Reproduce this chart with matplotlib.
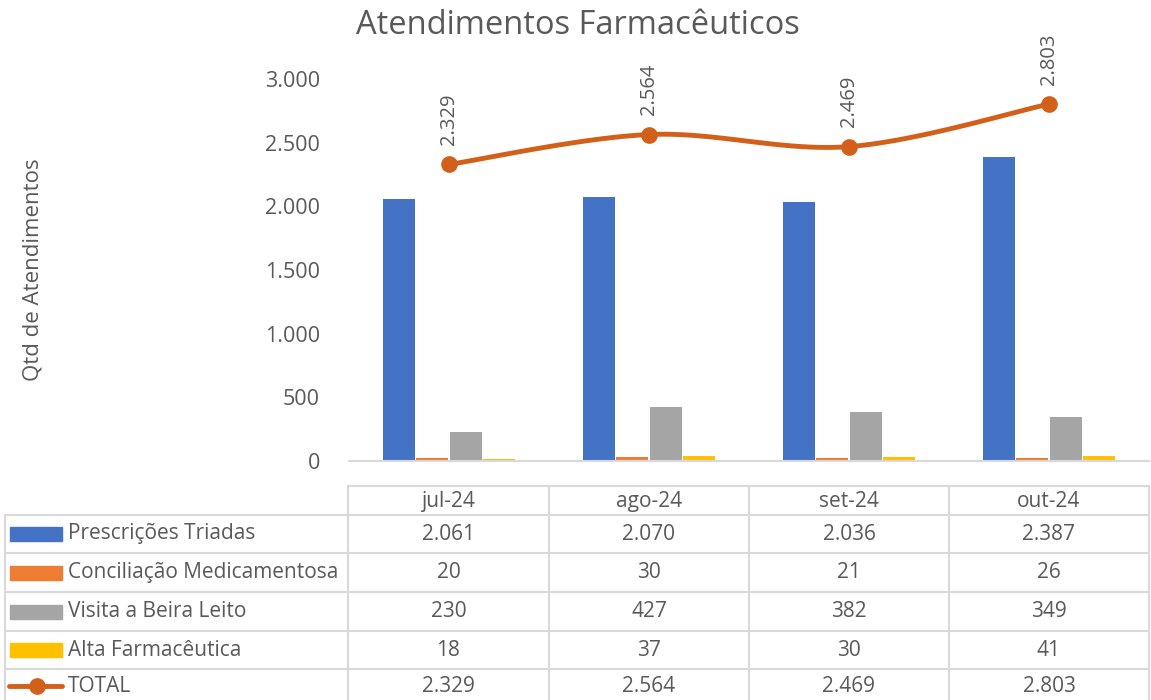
import numpy as np
import matplotlib.pyplot as plt

meses = ["jul-24", "ago-24", "set-24", "out-24"]
prescricoes = [2061, 2070, 2036, 2387]
conciliacao = [20, 30, 21, 26]
visita = [230, 427, 382, 349]
alta = [18, 37, 30, 41]
total = [2329, 2564, 2469, 2803]

series = [
    ("Prescrições Triadas", prescricoes, "#4472C4"),
    ("Conciliação Medicamentosa", conciliacao, "#ED7D31"),
    ("Visita a Beira Leito", visita, "#A5A5A5"),
    ("Alta Farmacêutica", alta, "#FFC000"),
]
cor_total = "#D2601A"
cinza_txt = "#595959"
cinza_linha = "#D9D9D9"

plt.rcParams["font.family"] = ["Open Sans", "DejaVu Sans"]


def fmt(v):
    return f"{v:,}".replace(",", ".")


def suavizar(x, y, n=40):
    # curva tipo Excel: bezier com tangentes catmull-rom
    x = np.asarray(x, float)
    y = np.asarray(y, float)
    px = np.concatenate([[x[0]], x, [x[-1]]])
    py = np.concatenate([[y[0]], y, [y[-1]]])
    xs, ys = [], []
    t = np.linspace(0, 1, n)
    for i in range(1, len(px) - 2):
        p0 = np.array([px[i], py[i]])
        p3 = np.array([px[i + 1], py[i + 1]])
        p1 = p0 + (np.array([px[i + 1], py[i + 1]]) - np.array([px[i - 1], py[i - 1]])) / 6
        p2 = p3 - (np.array([px[i + 2], py[i + 2]]) - np.array([px[i], py[i]])) / 6
        b = ((1 - t) ** 3)[:, None] * p0 + (3 * (1 - t) ** 2 * t)[:, None] * p1 \
            + (3 * (1 - t) * t ** 2)[:, None] * p2 + (t ** 3)[:, None] * p3
        xs.extend(b[:, 0])
        ys.extend(b[:, 1])
    return np.array(xs), np.array(ys)


W, H = 1151, 700
fig = plt.figure(figsize=(W / 100, H / 100), dpi=100)

ax = fig.add_axes([349 / W, 1 - 461 / H, 800 / W, (461 - 79) / H])
x = np.arange(len(meses))
largura = 0.16
offsets = [-0.25, -0.083, 0.083, 0.25]
for (nome, vals, cor), off in zip(series, offsets):
    ax.bar(x + off, vals, largura, color=cor, zorder=2)

sx, sy = suavizar(x, total)
ax.plot(sx, sy, color=cor_total, lw=3.5, zorder=3, clip_on=False)
ax.plot(x, total, "o", color=cor_total, ms=11, zorder=4, clip_on=False)
for xi, v in zip(x, total):
    ax.annotate(fmt(v), (xi, v), xytext=(0, 14), textcoords="offset points",
                rotation=90, ha="center", va="bottom", fontsize=14.5,
                color=cinza_txt, annotation_clip=False)

ax.set_xlim(-0.5, len(meses) - 0.5)
ax.set_ylim(0, 3000)
ax.set_yticks(np.arange(0, 3001, 500))
ax.set_yticklabels([fmt(v) for v in range(0, 3001, 500)])
ax.tick_params(axis="y", length=0, labelsize=15.5, labelcolor=cinza_txt, pad=21)
ax.set_xticks([])
for s in ["top", "right", "left"]:
    ax.spines[s].set_visible(False)
ax.spines["bottom"].set_color(cinza_linha)
ax.spines["bottom"].set_linewidth(1.5)
ax.set_ylabel("Qtd de Atendimentos", fontsize=16, color=cinza_txt, labelpad=0)
ax.yaxis.set_label_coords(-(349 - 44) / 800, 0.5)

fig.text(578 / W, 1 - 25 / H, "Atendimentos Farmacêuticos", ha="center",
         va="center", fontsize=23.5, color=cinza_txt)

# tabela de dados
tb = fig.add_axes([0, 0, 1, 1])
tb.set_xlim(0, W)
tb.set_ylim(H, 0)
tb.axis("off")
col_x = [348, 549, 749, 949, 1149]
row_y = [486, 515, 553, 592, 631, 669, 707]
lw = 1.5
tb.plot([col_x[0], col_x[-1]], [row_y[0]] * 2, color=cinza_linha, lw=lw)
for yy in row_y[1:]:
    tb.plot([5, col_x[-1]], [yy, yy], color=cinza_linha, lw=lw)
tb.plot([5, 5], [row_y[1], row_y[-1]], color=cinza_linha, lw=lw)
for xx in col_x:
    tb.plot([xx, xx], [row_y[0], row_y[-1]], color=cinza_linha, lw=lw)

for j, m in enumerate(meses):
    tb.text((col_x[j] + col_x[j + 1]) / 2, (row_y[0] + row_y[1]) / 2 + 1, m,
            ha="center", va="center", fontsize=15, color=cinza_txt)

nomes = [s[0] for s in series] + ["TOTAL"]
valores = [s[1] for s in series] + [total]
cores = [s[2] for s in series] + [cor_total]
for i, (nome, vals, cor) in enumerate(zip(nomes, valores, cores)):
    yc = (row_y[i + 1] + row_y[i + 2]) / 2
    if nome == "TOTAL":
        yc = 686
        tb.plot([9, 62], [yc, yc], color=cor, lw=3.5, solid_capstyle="round")
        tb.plot([37], [yc], "o", color=cor, ms=11)
    else:
        tb.add_patch(plt.Rectangle((10, yc - 7), 52, 14, color=cor))
    tb.text(68, yc, nome, ha="left", va="center", fontsize=15, color=cinza_txt)
    for j, v in enumerate(vals):
        tb.text((col_x[j] + col_x[j + 1]) / 2, yc, fmt(v), ha="center",
                va="center", fontsize=15, color=cinza_txt)

fig.savefig("out.png", dpi=100)
